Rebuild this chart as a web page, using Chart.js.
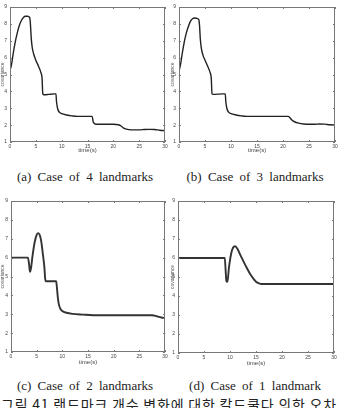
<!DOCTYPE html>
<html>
<head>
<meta charset="utf-8">
<script src="https://cdn.jsdelivr.net/npm/chart.js@4"></script>
<style>
  html, body { margin: 0; padding: 0; background: #fff; }
  body { width: 340px; height: 408px; position: relative; overflow: hidden; }
  canvas { position: absolute; }
  .cap { position: absolute; width: 170px; text-align: center; font: 13px "Liberation Serif", serif; color: #222; word-spacing: 3px; white-space: nowrap; }
  .fig { position: absolute; left: 1px; top: 397px; font: 14px "Noto Sans CJK KR", sans-serif; color: #222; white-space: nowrap; line-height: 14px; letter-spacing: 0.8px; }
</style>
</head>
<body>
<canvas id="chartA" width="170" height="154" style="left:0;top:0"></canvas>
<canvas id="chartB" width="170" height="154" style="left:170px;top:0"></canvas>
<canvas id="chartC" width="170" height="172" style="left:0;top:194px"></canvas>
<canvas id="chartD" width="170" height="173" style="left:170px;top:194px"></canvas>
<div class="cap" style="left:0;top:169px">(a) Case of 4 landmarks</div>
<div class="cap" style="left:170px;top:169px">(b) Case of 3 landmarks</div>
<div class="cap" style="left:0;top:378px">(c) Case of 2 landmarks</div>
<div class="cap" style="left:170px;top:378px">(d) Case of 1 landmark</div>
<div class="fig">그림 41 랜드마크 개수 변화에 대한 칼드쿨다 의한 오차</div>
<script>
// tick values shared by all four panels
const xTicks = [0, 5, 10, 15, 20, 25, 30];
const yTicks = [1, 2, 3, 4, 5, 6, 7, 8, 9];

// (a) 4 landmarks
const timeA = [0, 0.3, 0.6, 1.0, 1.4, 1.8, 2.2, 2.6, 3.0, 3.4, 3.8, 3.95, 4.1, 4.3, 4.6, 5.0, 5.5, 6.0, 6.2, 6.35, 6.6, 7.5, 8.5, 8.9, 9.0, 9.2, 9.5, 10, 11, 12, 13, 15.9, 16.1, 16.4, 17, 20, 21, 21.5, 22, 22.5, 23.5, 25, 26, 27, 28, 29, 30];
const covA  = [5.25, 5.6, 6.2, 6.9, 7.45, 7.9, 8.2, 8.38, 8.45, 8.45, 8.38, 8.0, 7.2, 6.6, 6.2, 5.85, 5.5, 5.1, 4.8, 3.85, 3.8, 3.82, 3.85, 3.85, 3.4, 3.0, 2.78, 2.68, 2.6, 2.55, 2.52, 2.52, 2.2, 2.08, 2.05, 2.05, 2.02, 1.95, 1.82, 1.76, 1.72, 1.72, 1.74, 1.75, 1.74, 1.7, 1.67];

// (b) 3 landmarks
const timeB = [0, 0.3, 0.6, 1.0, 1.4, 1.8, 2.2, 2.6, 3.0, 3.4, 3.8, 3.95, 4.1, 4.3, 4.6, 5.0, 5.5, 6.0, 6.2, 6.35, 6.6, 8.5, 8.9, 9.0, 9.2, 9.5, 10, 11, 12, 13, 21, 21.3, 21.7, 22.2, 23, 24, 25, 26, 27, 28, 29, 30];
const covB  = [5.2, 5.6, 6.2, 6.9, 7.45, 7.85, 8.15, 8.3, 8.35, 8.33, 8.25, 7.9, 7.1, 6.55, 6.15, 5.85, 5.5, 5.1, 4.8, 3.85, 3.82, 3.85, 3.85, 3.4, 3.0, 2.78, 2.68, 2.6, 2.55, 2.52, 2.52, 2.45, 2.3, 2.2, 2.12, 2.07, 2.05, 2.05, 2.07, 2.06, 2.02, 2.0];

// (c) 2 landmarks
const timeC = [0, 3.3, 3.5, 3.7, 3.9, 4.2, 4.6, 5.0, 5.3, 5.6, 5.9, 6.2, 6.5, 6.65, 6.8, 8.8, 8.95, 9.1, 9.3, 9.6, 10, 10.8, 12, 14, 16, 27.5, 28.5, 29.3, 30];
const covC  = [6.0, 6.0, 5.7, 5.25, 5.45, 6.1, 6.8, 7.2, 7.3, 7.2, 6.85, 6.2, 5.5, 4.9, 4.75, 4.75, 4.4, 3.95, 3.55, 3.3, 3.17, 3.08, 3.02, 2.98, 2.95, 2.95, 2.88, 2.83, 2.8];

// (d) 1 landmark
const timeD = [0, 9.0, 9.15, 9.3, 9.5, 9.8, 10.2, 10.6, 11, 11.4, 12, 13, 14, 15, 15.7, 16, 30];
const covD  = [6.0, 6.0, 5.4, 4.8, 4.75, 5.5, 6.2, 6.55, 6.62, 6.5, 6.15, 5.6, 5.1, 4.75, 4.65, 4.63, 4.63];

// matlab-style box with inward ticks
const boxPlugin = {
    id: 'box',
    afterDatasetsDraw(chart) {
        const { ctx, chartArea: a, scales: { x, y } } = chart;
        ctx.save();
        ctx.strokeStyle = '#777';
        ctx.lineWidth = 1;
        ctx.strokeRect(a.left + 0.5, a.top + 0.5, a.right - a.left - 1, a.bottom - a.top - 1);
        ctx.beginPath();
        x.ticks.forEach(t => {
            const px = Math.round(x.getPixelForValue(t.value)) + 0.5;
            ctx.moveTo(px, a.bottom); ctx.lineTo(px, a.bottom - 2);
            ctx.moveTo(px, a.top); ctx.lineTo(px, a.top + 2);
        });
        y.ticks.forEach(t => {
            const py = Math.round(y.getPixelForValue(t.value)) + 0.5;
            ctx.moveTo(a.left, py); ctx.lineTo(a.left + 2, py);
            ctx.moveTo(a.right, py); ctx.lineTo(a.right - 2, py);
        });
        ctx.stroke();
        ctx.restore();
    }
};

function makeChart(id, times, covs, opts) {
    const ctx = document.getElementById(id).getContext('2d');
    const tickFont = { family: 'Liberation Sans', size: 5 };
    new Chart(ctx, {
        type: 'line',
        data: {
            datasets: [{
                data: times.map((t, i) => ({ x: t, y: covs[i] })),
                borderColor: opts.color,
                borderWidth: opts.width,
                pointRadius: 0,
                cubicInterpolationMode: 'monotone',
                fill: false
            }]
        },
        options: {
            responsive: false,
            animation: false,
            devicePixelRatio: 1,
            layout: { padding: { top: 7, right: opts.right, left: 0, bottom: 0 } },
            plugins: { legend: { display: false }, tooltip: { enabled: false } },
            scales: {
                x: {
                    type: 'linear', min: 0, max: 30,
                    afterBuildTicks: s => { s.ticks = xTicks.map(v => ({ value: v })); },
                    afterFit: s => { s.height = opts.xh; },
                    grid: { display: false, drawTicks: false },
                    border: { display: false },
                    ticks: { font: tickFont, color: '#444', padding: 2, maxRotation: 0, autoSkip: false },
                    title: { display: true, text: 'time(s)', font: { family: 'Liberation Sans', size: 6 }, color: '#444', padding: 0 }
                },
                y: {
                    type: 'linear', min: 1, max: 9,
                    afterBuildTicks: s => { s.ticks = yTicks.map(v => ({ value: v })); },
                    afterFit: s => { s.width = opts.yw; },
                    grid: { display: false, drawTicks: false },
                    border: { display: false },
                    ticks: { font: tickFont, color: '#444', padding: 3, autoSkip: false },
                    title: { display: true, text: 'covariance', font: { family: 'Liberation Sans', size: 5, lineHeight: 1 }, color: '#555', padding: 0 }
                }
            }
        },
        plugins: [boxPlugin]
    });
}

makeChart('chartA', timeA, covA, { color: '#222', width: 1.4, right: 5, yw: 10, xh: 12 });
makeChart('chartB', timeB, covB, { color: '#222', width: 1.4, right: 5, yw: 9, xh: 12 });
makeChart('chartC', timeC, covC, { color: '#333', width: 1.9, right: 5, yw: 11, xh: 14 });
makeChart('chartD', timeD, covD, { color: '#333', width: 1.9, right: 6, yw: 8, xh: 14 });
</script>
</body>
</html>
